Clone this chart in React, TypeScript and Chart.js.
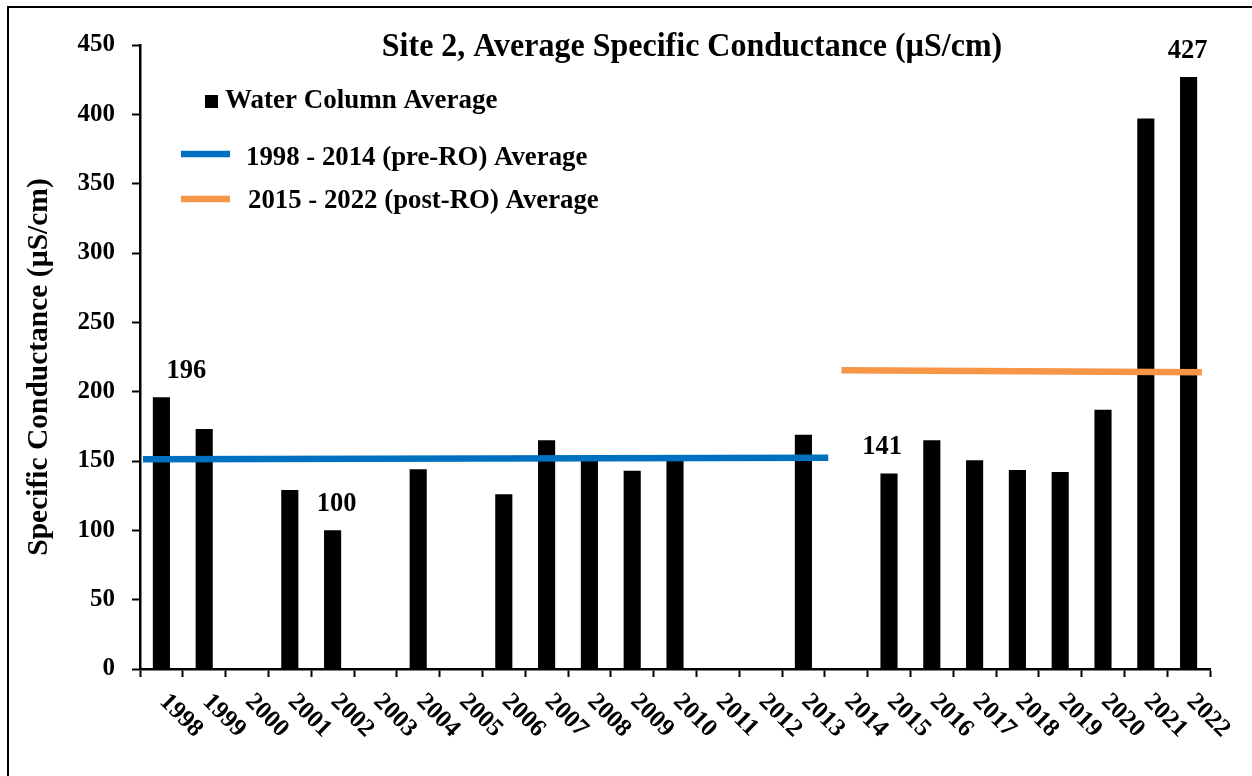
import React, { useEffect, useRef } from "react";
import { Chart, registerables } from "chart.js";

Chart.register(...registerables);

const categories = [
  "1998", "1999", "2000", "2001", "2002", "2003", "2004", "2005", "2006", "2007",
  "2008", "2009", "2010", "2011", "2012", "2013", "2014", "2015", "2016", "2017",
  "2018", "2019", "2020", "2021", "2022",
];

const waterColumnAverage: (number | null)[] = [
  196, 173, null, 129, 100, null, 144, null, 126, 165,
  151, 143, 151, null, null, 169, null, 141, 165, 150.5,
  143.5, 142, 187, 397, 427,
];

// positions of the average lines in category-index units
const preRoX = [-0.43, 15.58];
const preRoY = [151.2, 152.4];
const postRoX = [15.89, 24.31];
const postRoY = [215.4, 214.0];

const yTicks = [0, 50, 100, 150, 200, 250, 300, 350, 400, 450];

const labeledBars = [0, 4, 17, 24];

const TITLE = "Site 2, Average Specific Conductance (µS/cm)";
const Y_TITLE = "Specific Conductance (µS/cm)";
const SERIES_BARS = "Water Column Average";
const SERIES_PRE = "1998 - 2014 (pre-RO) Average";
const SERIES_POST = "2015 - 2022 (post-RO) Average";

const FONT = '"Liberation Serif", "Times New Roman", serif';
const BLUE = "#0070C0";
const ORANGE = "#F79646";

const labelOffsetX: Record<number, number> = { 0: 25, 4: 4, 17: -7, 24: -1 };

const drawPlugin = {
  id: "customDraw",
  afterDraw(chart: any) {
    const ctx = chart.ctx as CanvasRenderingContext2D;
    ctx.save();
    // frame
    ctx.strokeStyle = "#000";
    ctx.lineWidth = 2;
    ctx.beginPath();
    ctx.moveTo(8, 800);
    ctx.lineTo(8, 7);
    ctx.lineTo(1260, 7);
    ctx.stroke();

    ctx.fillStyle = "#000";
    // title
    ctx.font = `bold 32px ${FONT}`;
    ctx.textAlign = "center";
    ctx.textBaseline = "middle";
    ctx.save();
    ctx.translate(692, 47);
    ctx.scale(1.0, 1.08);
    ctx.fillText(TITLE, 0, 0);
    ctx.restore();

    // y title
    ctx.save();
    ctx.translate(39, 367);
    ctx.rotate(-Math.PI / 2);
    ctx.font = `bold 29.5px ${FONT}`;
    ctx.fillText(Y_TITLE, 0, 0);
    ctx.restore();

    // legend
    const ds = chart.data.datasets;
    ctx.textAlign = "left";
    ctx.font = `bold 27px ${FONT}`;
    ctx.fillStyle = ds[0].backgroundColor;
    ctx.fillRect(205, 95, 13, 13);
    ctx.fillStyle = "#000";
    ctx.fillText(ds[0].label, 225, 101);

    ctx.lineWidth = 6.5;
    ctx.strokeStyle = ds[1].borderColor;
    ctx.beginPath();
    ctx.moveTo(181, 154);
    ctx.lineTo(230, 154);
    ctx.stroke();
    ctx.font = `bold 26.8px ${FONT}`;
    ctx.fillText(ds[1].label, 246, 158);

    ctx.strokeStyle = ds[2].borderColor;
    ctx.beginPath();
    ctx.moveTo(181, 199);
    ctx.lineTo(230, 199);
    ctx.stroke();
    ctx.fillText(ds[2].label, 248, 201);

    // x labels rotated clockwise
    const xs = chart.scales.x;
    ctx.font = `bold 25px ${FONT}`;
    ctx.textAlign = "left";
    ctx.textBaseline = "middle";
    categories.forEach((c, i) => {
      const px = xs.getPixelForValue(i);
      ctx.save();
      ctx.translate(px + 2, 698);
      ctx.rotate(Math.PI / 4);
      ctx.fillText(c, 0, 0);
      ctx.restore();
    });

    // data labels
    const meta = chart.getDatasetMeta(0);
    ctx.textAlign = "center";
    ctx.font = `bold 26.5px ${FONT}`;
    labeledBars.forEach((i) => {
      const el = meta.data[i];
      const v = waterColumnAverage[i];
      if (!el || v == null) return;
      ctx.fillText(String(v), el.x + (labelOffsetX[i] || 0), el.y - 26);
    });
    ctx.restore();
  },
};

export default function App() {
  const ref = useRef<HTMLCanvasElement | null>(null);
  useEffect(() => {
    document.body.style.margin = "0";
    document.body.style.overflow = "hidden";
    const canvas = ref.current!;
    const chart = new Chart(canvas, {
      type: "bar",
      data: {
        labels: categories,
        datasets: [
          {
            type: "bar",
            label: SERIES_BARS,
            data: waterColumnAverage,
            backgroundColor: "#000000",
            borderColor: "#000000",
            categoryPercentage: 1,
            barPercentage: 0.4,
            grouped: false,
            order: 2,
          } as any,
          {
            type: "line",
            label: SERIES_PRE,
            data: preRoX.map((x, i) => ({ x, y: preRoY[i] })),
            xAxisID: "x2",
            borderColor: BLUE,
            backgroundColor: BLUE,
            borderWidth: 6.5,
            pointRadius: 0,
            order: 1,
          } as any,
          {
            type: "line",
            label: SERIES_POST,
            data: postRoX.map((x, i) => ({ x, y: postRoY[i] })),
            xAxisID: "x2",
            borderColor: ORANGE,
            backgroundColor: ORANGE,
            borderWidth: 6.5,
            pointRadius: 0,
            order: 1,
          } as any,
        ],
      },
      options: {
        responsive: false,
        animation: false,
        devicePixelRatio: 1,
        layout: { padding: { left: 0, right: 42, top: 45, bottom: 0 } },
        plugins: {
          legend: { display: false },
          tooltip: { enabled: false },
          title: { display: false },
        },
        scales: {
          x: {
            type: "category",
            offset: true,
            grid: {
              display: true,
              offset: true,
              drawOnChartArea: false,
              drawTicks: true,
              tickLength: 8,
              tickWidth: 2,
              tickColor: "#000",
            },
            border: { display: true, color: "#000", width: 2.5 },
            ticks: { display: false },
            afterFit: (s: any) => {
              s.height = 107;
            },
          },
          x2: {
            type: "linear",
            display: false,
            offset: false,
            grid: { offset: false },
            min: -0.5,
            max: 24.5,
          },
          y: {
            min: 0,
            max: 450,
            afterBuildTicks: (s: any) => {
              s.ticks = yTicks.map((v) => ({ value: v }));
            },
            grid: {
              display: true,
              drawOnChartArea: false,
              drawTicks: true,
              tickLength: 8,
              tickWidth: 2,
              tickColor: "#000",
            },
            border: { display: true, color: "#000", width: 2.5 },
            ticks: {
              color: "#000",
              padding: 17,
              font: { family: FONT, size: 25, weight: "bold" },
            },
            afterFit: (s: any) => {
              s.width = 140;
            },
          },
        },
      } as any,
      plugins: [drawPlugin],
    });
    return () => chart.destroy();
  }, []);
  return (
    <div style={{ width: 1252, height: 776, position: "relative" }}>
      <canvas ref={ref} width={1252} height={776} style={{ display: "block" }} />
    </div>
  );
}
